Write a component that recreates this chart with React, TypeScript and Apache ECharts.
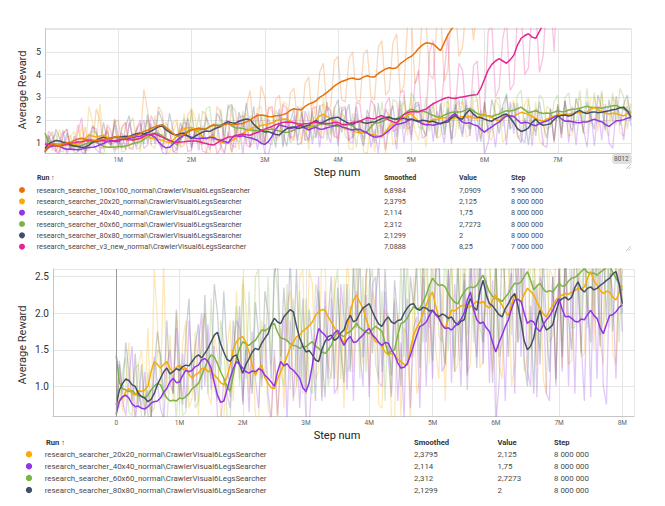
import { useEffect, useRef } from 'react';
import * as echarts from 'echarts';

// Runs shown in the first chart and in its table (table order).
const RUN_NAMES = [
  'research_searcher_100x100_normal\\CrawlerVisual6LegsSearcher',
  'research_searcher_20x20_normal\\CrawlerVisual6LegsSearcher',
  'research_searcher_40x40_normal\\CrawlerVisual6LegsSearcher',
  'research_searcher_60x60_normal\\CrawlerVisual6LegsSearcher',
  'research_searcher_80x80_normal\\CrawlerVisual6LegsSearcher',
  'research_searcher_v3_new_normal\\CrawlerVisual6LegsSearcher',
];
const RUN_COLORS = ['#e8710a', '#f9ab00', '#9334e6', '#7cb342', '#425066', '#e52592'];
const SMOOTHED_LABELS = ['6,8984', '2,3795', '2,114', '2,312', '2,1299', '7,0888'];
const VALUE_LABELS = ['7,0909', '2,125', '1,75', '2,7273', '2', '8,25'];
const STEP_LABELS = ['5 900 000', '8 000 000', '8 000 000', '8 000 000', '8 000 000', '7 000 000'];
const TABLE_HEADERS = ['Run ↑', 'Smoothed', 'Value', 'Step'];
// Runs repeated in the second (zoomed) chart.
const ZOOMED_RUNS = [1, 2, 3, 4];

// Every curve is stored with one value per 50 000 steps.
const STEP = 50000;

// Smoothed average reward.
const SMOOTH_100 = [0.6, 0.85, 0.95, 0.88, 0.85, 0.95, 1.0, 1.02, 1.1, 1.17,
  1.2, 1.16, 1.15, 1.12, 1.1, 1.15, 1.15, 1.18, 1.2, 1.24,
  1.25, 1.21, 1.2, 1.27, 1.3, 1.33, 1.4, 1.5, 1.55, 1.64,
  1.7, 1.76, 1.8, 1.68, 1.55, 1.4, 1.3, 1.34, 1.35, 1.47,
  1.55, 1.6, 1.65, 1.61, 1.6, 1.72, 1.8, 1.76, 1.75, 1.8,
  1.85, 1.81, 1.8, 1.84, 1.85, 1.92, 2.0, 2.12, 2.2, 2.22,
  2.2, 2.16, 2.15, 2.19, 2.2, 2.24, 2.3, 2.43, 2.5, 2.46,
  2.45, 2.6, 2.7, 2.76, 2.85, 3.0, 3.1, 3.22, 3.35, 3.5,
  3.6, 3.7, 3.75, 3.82, 3.85, 3.8, 3.8, 3.9, 3.95, 3.9,
  3.9, 4.05, 4.15, 4.25, 4.3, 4.27, 4.3, 4.48, 4.6, 4.72,
  4.8, 4.95, 5.15, 5.3, 5.4, 5.38, 5.35, 5.2, 5.05, 5.4,
  5.75, 6.0, 6.2, 6.35, 6.5, 6.6, 6.7, 6.8, 6.8984];
const SMOOTH_20 = [0.68, 0.8, 0.84, 0.92, 0.97, 0.9, 0.88, 0.94, 0.93, 0.95,
  1.0, 1.2, 1.34, 1.3, 1.25, 1.3, 1.34, 1.24, 1.2, 1.26,
  1.29, 1.23, 1.25, 1.16, 1.11, 1.16, 1.18, 1.24, 1.25, 1.2,
  1.22, 1.15, 1.11, 1.05, 1.02, 1.12, 1.29, 1.5, 1.61, 1.66,
  1.68, 1.6, 1.47, 1.28, 1.15, 1.24, 1.29, 1.12, 1.04, 0.98,
  0.97, 1.1, 1.2, 1.3, 1.41, 1.53, 1.61, 1.68, 1.7, 1.76,
  1.79, 1.83, 1.88, 1.97, 2.02, 2.05, 2.04, 1.95, 1.88, 1.8,
  1.72, 1.66, 1.59, 1.8, 2.02, 2.18, 2.25, 2.15, 2.07, 1.92,
  1.79, 1.7, 1.61, 1.6, 1.54, 1.47, 1.43, 1.45, 1.43, 1.37,
  1.34, 1.3, 1.29, 1.5, 1.7, 1.8, 1.88, 2.0, 2.11, 2.22,
  2.29, 2.1, 1.93, 1.85, 1.79, 1.92, 2.04, 2.03, 2.07, 2.1,
  2.11, 2.08, 2.09, 2.13, 2.16, 2.14, 2.16, 2.1, 2.07, 2.18,
  2.25, 2.17, 2.11, 2.02, 1.97, 2.12, 2.25, 2.19, 2.16, 2.26,
  2.34, 2.3, 2.25, 2.15, 2.07, 1.99, 1.95, 2.04, 2.11, 2.18,
  2.22, 2.25, 2.27, 2.26, 2.29, 2.31, 2.34, 2.33, 2.36, 2.48,
  2.57, 2.45, 2.38, 2.31, 2.27, 2.3, 2.29, 2.22, 2.18, 2.28,
  2.3795];
const SMOOTH_40 = [0.62, 0.8, 0.86, 0.88, 0.84, 0.76, 0.72, 0.73, 0.7, 0.69,
  0.72, 0.77, 0.79, 0.8, 0.84, 0.92, 0.97, 1.06, 1.11, 1.05,
  1.06, 1.15, 1.22, 1.2, 1.22, 1.27, 1.29, 1.36, 1.38, 1.34,
  1.25, 1.05, 0.88, 0.78, 0.8, 0.95, 1.11, 1.24, 1.34, 1.3,
  1.25, 1.2, 1.18, 1.21, 1.2, 1.24, 1.22, 1.15, 1.11, 1.06,
  1.0, 1.2, 1.34, 1.28, 1.31, 1.25, 1.22, 1.17, 1.11, 0.98,
  0.93, 1.05, 1.29, 1.6, 1.79, 1.74, 1.7, 1.63, 1.66, 1.73,
  1.77, 1.65, 1.56, 1.64, 1.68, 1.6, 1.61, 1.66, 1.7, 1.76,
  1.79, 1.7, 1.66, 1.6, 1.56, 1.6, 1.59, 1.5, 1.43, 1.32,
  1.25, 1.26, 1.31, 1.42, 1.56, 1.7, 1.82, 1.84, 1.88, 1.97,
  2.04, 1.98, 1.93, 1.84, 1.79, 1.8, 1.77, 1.82, 1.86, 1.92,
  2.0, 2.18, 2.29, 2.05, 1.91, 1.86, 1.88, 1.8, 1.75, 1.6,
  1.47, 1.6, 1.7, 1.82, 1.91, 2.06, 2.18, 2.19, 2.16, 2.0,
  1.86, 1.9, 1.88, 1.79, 1.75, 1.84, 1.91, 1.96, 2.04, 2.13,
  2.2, 2.05, 1.95, 1.96, 1.93, 1.89, 1.88, 1.92, 1.91, 1.98,
  2.04, 1.97, 1.93, 1.8, 1.72, 1.85, 1.97, 1.98, 2.02, 2.08,
  2.114];
const SMOOTH_60 = [1.42, 1.05, 0.97, 0.95, 0.93, 0.94, 0.9, 0.87, 0.86, 0.85,
  0.88, 0.95, 1.0, 1.04, 1.02, 0.92, 0.84, 0.8, 0.81, 0.8,
  0.84, 0.83, 0.86, 0.9, 0.97, 1.0, 1.04, 1.15, 1.25, 1.36,
  1.43, 1.4, 1.31, 1.2, 1.11, 1.0, 0.93, 1.15, 1.38, 1.52,
  1.61, 1.58, 1.56, 1.6, 1.63, 1.7, 1.77, 1.76, 1.79, 1.84,
  1.86, 1.74, 1.66, 1.65, 1.63, 1.58, 1.56, 1.55, 1.52, 1.55,
  1.54, 1.58, 1.61, 1.55, 1.52, 1.47, 1.45, 1.5, 1.56, 1.68,
  1.75, 1.7, 1.68, 1.73, 1.75, 1.8, 1.86, 1.8, 1.77, 1.74,
  1.72, 1.78, 1.82, 1.79, 1.75, 1.6, 1.45, 1.48, 1.5, 1.7,
  1.86, 1.88, 1.93, 2.02, 2.09, 2.06, 2.07, 2.15, 2.25, 2.38,
  2.48, 2.42, 2.38, 2.39, 2.36, 2.27, 2.2, 2.15, 2.13, 2.22,
  2.29, 2.34, 2.36, 2.35, 2.38, 2.46, 2.52, 2.4, 2.29, 2.23,
  2.2, 2.19, 2.16, 2.22, 2.27, 2.35, 2.41, 2.4, 2.43, 2.5,
  2.57, 2.45, 2.32, 2.37, 2.41, 2.33, 2.29, 2.31, 2.29, 2.35,
  2.41, 2.37, 2.38, 2.44, 2.48, 2.49, 2.52, 2.57, 2.61, 2.56,
  2.54, 2.55, 2.52, 2.56, 2.59, 2.63, 2.64, 2.56, 2.48, 2.4,
  2.312];
const SMOOTH_80 = [0.75, 0.95, 1.04, 1.1, 1.08, 1.02, 1.0, 0.9, 0.86, 0.84,
  0.79, 0.82, 0.9, 1.02, 1.11, 1.2, 1.25, 1.17, 1.2, 1.24,
  1.22, 1.27, 1.29, 1.28, 1.34, 1.4, 1.43, 1.39, 1.45, 1.52,
  1.61, 1.7, 1.74, 1.58, 1.47, 1.37, 1.34, 1.41, 1.43, 1.3,
  1.18, 1.3, 1.38, 1.47, 1.52, 1.5, 1.59, 1.66, 1.72, 1.85,
  1.93, 1.88, 1.86, 1.95, 2.0, 2.05, 2.02, 1.82, 1.66, 1.55,
  1.47, 1.49, 1.43, 1.36, 1.34, 1.5, 1.61, 1.68, 1.7, 1.63,
  1.66, 1.73, 1.77, 1.9, 1.97, 1.88, 1.91, 2.0, 2.07, 2.1,
  2.13, 2.02, 1.93, 1.85, 1.82, 1.9, 1.95, 1.88, 1.86, 1.9,
  1.91, 2.0, 2.07, 2.12, 2.13, 2.06, 2.04, 2.08, 2.07, 2.03,
  2.04, 1.99, 1.95, 1.99, 1.97, 1.93, 1.95, 1.88, 1.84, 1.89,
  1.91, 2.1, 2.2, 2.08, 2.04, 2.3, 2.45, 2.25, 2.13, 2.1,
  2.04, 1.98, 1.95, 2.06, 2.13, 2.22, 2.27, 2.1, 1.88, 1.62,
  1.5, 1.55, 1.66, 1.9, 2.04, 1.86, 1.77, 1.8, 1.84, 2.02,
  2.16, 2.2, 2.22, 2.18, 2.22, 2.35, 2.43, 2.33, 2.29, 2.34,
  2.36, 2.32, 2.34, 2.38, 2.41, 2.45, 2.48, 2.54, 2.57, 2.4,
  2.1299];
const SMOOTH_V3 = [0.95, 0.93, 0.9, 0.86, 0.85, 0.9, 0.95, 0.99, 1.0, 1.03,
  1.05, 1.08, 1.1, 1.07, 1.05, 1.09, 1.1, 1.06, 1.05, 1.1,
  1.12, 1.14, 1.15, 1.13, 1.12, 1.16, 1.2, 1.28, 1.35, 1.38,
  1.4, 1.32, 1.25, 1.16, 1.1, 1.05, 1.02, 1.04, 1.05, 1.07,
  1.08, 1.08, 1.06, 1.0, 0.97, 0.92, 0.9, 1.0, 1.1, 1.18,
  1.25, 1.27, 1.3, 1.35, 1.38, 1.35, 1.33, 1.4, 1.45, 1.53,
  1.6, 1.66, 1.72, 1.8, 1.85, 1.9, 1.92, 1.9, 1.88, 1.84,
  1.82, 1.84, 1.85, 1.88, 1.9, 1.86, 1.84, 1.85, 1.86, 1.89,
  1.9, 1.82, 1.78, 1.85, 1.9, 1.92, 1.95, 2.03, 2.1, 2.07,
  2.05, 2.14, 2.2, 2.1, 2.0, 1.92, 1.88, 2.05, 2.25, 2.32,
  2.38, 2.37, 2.36, 2.43, 2.48, 2.6, 2.72, 2.8, 2.88, 2.95,
  3.0, 2.97, 2.95, 2.99, 3.02, 3.05, 3.08, 3.1, 3.12, 3.4,
  3.8, 4.2, 4.45, 4.6, 4.7, 4.6, 4.5, 4.65, 4.85, 5.3,
  5.6, 5.72, 5.8, 5.65, 5.6, 5.9, 6.2, 6.4, 6.6, 6.85,
  7.0888];

// Raw average reward.
const RAW_100 = [0.55, 1.2, 1.5, 0.7, 0.6, 1.4, 1.6, 0.8, 0.9, 1.8,
  0.85, 1.7, 0.75, 0.9, 2.5, 2.0, 0.7, 1.6, 0.8, 1.9,
  2.0, 0.85, 0.75, 1.8, 2.1, 1.0, 1.1, 3.35, 2.4, 1.2,
  1.3, 2.6, 2.3, 1.2, 1.0, 1.9, 2.0, 0.8, 0.9, 2.2,
  2.5, 1.1, 1.0, 2.4, 2.2, 1.1, 1.2, 2.6, 2.3, 1.1,
  1.3, 2.6, 2.4, 1.2, 1.3, 2.65, 3.3, 1.4, 1.6, 3.5,
  3.0, 1.5, 1.4, 2.9, 3.1, 1.5, 1.6, 3.2, 3.4, 1.8,
  1.7, 3.6, 3.9, 2.0, 2.2, 4.1, 4.5, 2.4, 2.6, 4.6,
  4.8, 2.9, 2.8, 4.7, 5.0, 2.9, 2.8, 4.9, 5.1, 3.0,
  2.9, 5.2, 5.5, 3.1, 3.3, 5.4, 5.8, 3.2, 3.5, 6.2,
  6.5, 3.6, 3.9, 6.6, 6.4, 4.0, 3.8, 6.3, 6.8, 3.7,
  4.2, 7.0, 7.2, 4.8, 5.2, 7.0, 7.3, 5.5, 7.0909];
const RAW_20 = [0.6, 1.2, 0.65, 1.0, 1.6, 0.75, 0.6, 1.3, 1.5, 0.7,
  1.8, 0.55, 2.6, 1.9, 1.0, 2.7, 0.9, 1.7, 0.8, 2.0,
  0.75, 1.6, 1.9, 0.7, 0.85, 1.75, 0.6, 1.8, 2.0, 0.9,
  0.75, 1.7, 1.45, 0.6, 0.55, 1.5, 1.9, 0.8, 2.3, 1.1,
  2.5, 2.1, 0.9, 1.6, 0.6, 0.5, 1.9, 1.5, 0.7, 0.55,
  1.4, 0.5, 1.8, 0.7, 2.1, 2.3, 0.85, 1.0, 2.5, 2.6,
  0.9, 2.6, 2.4, 1.1, 1.2, 2.8, 2.7, 1.3, 1.1, 2.5,
  0.9, 2.2, 0.7, 2.9, 2.0, 1.2, 3.0, 1.6, 1.3, 2.6,
  1.0, 2.3, 2.1, 0.75, 0.7, 2.05, 1.9, 0.6, 0.55, 2.0,
  0.6, 1.8, 1.7, 0.5, 2.5, 0.9, 1.1, 2.6, 2.8, 1.3,
  3.0, 1.5, 1.1, 2.4, 0.8, 2.3, 2.7, 1.2, 1.3, 2.75,
  2.8, 1.2, 1.3, 2.7, 2.8, 1.25, 1.35, 2.8, 2.9, 1.2,
  2.7, 1.3, 1.1, 2.9, 2.6, 1.0, 1.3, 2.5, 2.9, 1.2,
  1.4, 2.7, 3.0, 1.3, 2.8, 1.1, 0.9, 2.6, 2.5, 1.05,
  2.7, 1.25, 2.85, 1.3, 1.35, 2.9, 2.95, 1.4, 1.45, 3.0,
  3.0, 1.5, 3.2, 1.6, 1.3, 3.0, 2.8, 1.45, 1.3, 2.9,
  2.125];
const RAW_40 = [0.55, 1.3, 0.8, 0.6, 1.1, 1.55, 0.5, 0.95, 0.7, 1.2,
  0.6, 0.5, 1.4, 1.05, 0.7, 0.55, 1.3, 1.5, 0.9, 1.8,
  0.85, 1.45, 0.7, 1.9, 1.2, 0.8, 1.6, 2.0, 1.0, 1.85,
  0.95, 1.55, 0.6, 0.45, 1.1, 0.9, 0.7, 1.5, 1.9, 1.8,
  0.8, 1.5, 0.65, 1.75, 1.1, 0.7, 1.6, 1.85, 0.9, 0.55,
  1.5, 0.6, 1.3, 2.0, 0.5, 1.9, 0.8, 1.65, 0.7, 1.6,
  0.55, 0.45, 1.25, 1.9, 2.5, 0.8, 2.3, 1.1, 2.2, 0.9,
  1.0, 2.4, 1.95, 0.95, 2.1, 0.8, 2.3, 1.5, 1.0, 2.25,
  0.85, 2.4, 2.5, 1.05, 1.0, 2.3, 1.4, 0.85, 2.15, 0.8,
  1.6, 0.55, 2.2, 0.7, 1.8, 1.95, 0.7, 2.5, 1.0, 2.2,
  1.1, 2.55, 2.7, 1.2, 1.3, 2.6, 1.05, 2.4, 1.8, 1.0,
  2.45, 0.95, 2.5, 2.9, 1.4, 2.65, 1.3, 2.5, 1.05, 2.45,
  0.5, 1.0, 2.0, 0.8, 2.3, 2.55, 0.9, 2.8, 1.4, 2.75,
  1.2, 1.0, 2.45, 0.85, 2.5, 2.35, 0.9, 0.8, 2.5, 1.0,
  2.7, 1.2, 2.85, 1.0, 2.6, 0.9, 2.55, 1.6, 0.8, 2.5,
  0.85, 2.6, 1.1, 2.7, 1.0, 0.75, 2.55, 2.3, 1.1, 2.6,
  1.75];
const RAW_60 = [1.42, 0.7, 1.2, 1.4, 0.65, 0.6, 1.25, 1.3, 0.55, 0.6,
  1.2, 0.65, 0.7, 1.5, 1.45, 0.6, 0.5, 1.2, 1.15, 0.55,
  1.3, 0.6, 0.65, 1.2, 1.45, 0.7, 0.8, 1.6, 2.0, 0.9,
  2.2, 1.0, 0.8, 1.9, 1.6, 0.6, 0.55, 1.4, 2.1, 1.0,
  2.4, 1.1, 2.3, 1.0, 2.5, 2.6, 1.1, 1.2, 2.5, 1.3,
  2.7, 2.3, 1.2, 1.0, 2.4, 0.95, 2.2, 1.0, 2.3, 0.9,
  2.2, 1.0, 0.9, 2.4, 2.2, 0.85, 2.1, 1.0, 1.2, 2.3,
  2.6, 1.1, 2.4, 1.2, 1.3, 2.6, 2.7, 1.1, 2.5, 1.2,
  2.4, 2.6, 1.3, 1.1, 2.3, 0.8, 2.0, 0.9, 2.2, 1.3,
  2.7, 1.4, 2.8, 1.5, 1.4, 2.9, 2.8, 1.6, 3.1, 1.8,
  3.2, 2.9, 1.7, 1.6, 3.0, 1.5, 2.8, 1.4, 2.7, 1.6,
  3.0, 1.7, 3.1, 1.6, 3.0, 1.8, 1.6, 3.3, 2.9, 1.5,
  2.8, 1.4, 1.6, 2.9, 3.0, 1.7, 3.2, 1.6, 1.8, 3.1,
  3.3, 1.5, 2.9, 1.7, 1.5, 3.1, 2.9, 1.6, 1.7, 2.8,
  3.1, 1.6, 3.0, 3.2, 1.8, 1.8, 3.3, 1.9, 3.4, 1.8,
  3.2, 1.9, 3.3, 1.7, 1.9, 3.2, 1.8, 3.4, 3.0, 1.6,
  2.7273];
const RAW_80 = [0.62, 1.35, 0.9, 1.6, 1.2, 0.8, 1.45, 0.7, 1.3, 0.6,
  0.95, 0.55, 1.2, 1.75, 1.4, 0.85, 1.9, 1.05, 0.9, 2.05,
  1.3, 0.75, 1.7, 2.2, 1.0, 1.55, 1.85, 0.95, 2.25, 1.4,
  1.1, 2.4, 2.0, 1.2, 2.3, 1.5, 0.85, 1.9, 1.3, 2.1,
  0.75, 1.6, 1.25, 0.9, 2.15, 1.7, 1.0, 2.3, 2.0, 1.1,
  2.55, 2.7, 1.4, 2.35, 1.6, 2.75, 1.5, 2.6, 1.1, 2.2,
  0.9, 2.05, 1.6, 0.8, 2.3, 1.4, 0.85, 1.95, 2.5, 1.1,
  2.35, 1.5, 1.05, 2.4, 1.2, 2.65, 1.8, 2.8, 1.4, 2.5,
  2.9, 1.45, 2.2, 2.7, 1.2, 2.6, 1.65, 1.15, 2.45, 1.9,
  1.0, 2.75, 1.3, 2.5, 2.1, 2.65, 1.25, 2.85, 1.6, 2.4,
  1.35, 2.7, 2.8, 1.7, 1.3, 2.6, 1.9, 1.2, 2.75, 1.35,
  2.55, 1.15, 2.7, 2.0, 1.25, 2.9, 1.6, 2.45, 2.05, 1.05,
  2.8, 1.5, 2.9, 2.3, 1.4, 2.65, 3.1, 1.6, 2.75, 1.35,
  1.0, 2.1, 0.9, 2.4, 1.3, 2.8, 1.8, 1.2, 2.5, 1.1,
  2.6, 1.4, 2.85, 1.9, 1.5, 2.95, 2.4, 1.45, 2.8, 2.1,
  1.6, 3.1, 2.5, 1.55, 2.9, 1.9, 3.05, 1.75, 2.7, 3.1,
  2.0];
const RAW_V3 = [0.9, 1.5, 1.3, 0.6, 0.55, 1.4, 1.6, 0.7, 0.65, 1.5,
  2.1, 0.7, 0.8, 1.7, 1.6, 0.75, 0.8, 1.8, 1.5, 0.7,
  0.75, 1.7, 1.9, 0.8, 0.7, 1.6, 2.0, 0.75, 0.9, 2.2,
  1.8, 1.0, 0.7, 1.6, 1.5, 0.6, 0.7, 1.6, 1.7, 0.6,
  0.7, 1.6, 1.5, 0.65, 0.55, 1.3, 1.4, 0.5, 0.8, 1.9,
  2.0, 0.9, 0.8, 2.1, 2.2, 0.9, 0.8, 2.0, 2.3, 1.0,
  1.1, 2.5, 2.6, 1.2, 1.3, 2.7, 2.5, 1.2, 1.3, 2.6,
  2.4, 1.1, 1.2, 2.5, 2.6, 1.3, 1.2, 2.6, 2.4, 1.3,
  1.2, 2.5, 2.6, 1.1, 1.3, 2.8, 2.7, 1.4, 1.5, 2.9,
  2.6, 1.3, 1.2, 2.7, 3.0, 1.5, 1.6, 3.2, 3.3, 1.6,
  1.7, 3.6, 4.2, 1.8, 1.9, 5.0, 5.5, 2.1, 2.2, 4.0,
  5.8, 2.0, 2.3, 4.5, 4.2, 2.1, 2.0, 4.4, 4.6, 2.3,
  2.2, 5.9, 6.2, 3.0, 3.4, 5.6, 6.4, 3.3, 3.6, 6.6,
  6.8, 4.0, 4.3, 7.0, 6.9, 4.1, 4.8, 7.4, 7.6, 5.0,
  8.25];

const SMOOTHED = [SMOOTH_100, SMOOTH_20, SMOOTH_40, SMOOTH_60, SMOOTH_80, SMOOTH_V3];
const RAW = [RAW_100, RAW_20, RAW_40, RAW_60, RAW_80, RAW_V3];

const FONT = 'Roboto, sans-serif';
const MILLION = 1000000;

function toPairs(values: number[]): number[][] {
  return values.map((v, i) => [i * STEP, v]);
}

function lineSeries(grid: number, run: number, raw: boolean): any {
  return {
    type: 'line',
    xAxisIndex: grid,
    yAxisIndex: grid,
    showSymbol: false,
    symbol: 'none',
    silent: true,
    clip: true,
    data: toPairs(raw ? RAW[run] : SMOOTHED[run]),
    lineStyle: {
      color: RUN_COLORS[run],
      width: raw ? 1.3 : 1.5,
      opacity: raw ? 0.27 : 1,
    },
  };
}

function label(x: number, y: number, text: string, extra: any = {}): any {
  return {
    type: 'text',
    x,
    y,
    silent: true,
    style: {
      text,
      fill: '#4a4a4a',
      fontSize: 7.3,
      fontFamily: FONT,
      align: 'left',
      verticalAlign: 'middle',
      ...extra,
    },
  };
}

function buildGraphic(): any[] {
  const g: any[] = [];
  // axis titles
  g.push({ ...label(22, 90, 'Average Reward', { fontSize: 11, fill: '#333', align: 'center' }), rotation: Math.PI / 2 });
  g.push({ ...label(22, 345, 'Average Reward', { fontSize: 11, fill: '#333', align: 'center' }), rotation: Math.PI / 2 });
  g.push(label(337, 172.5, 'Step num', { fontSize: 11, fill: '#222', align: 'center' }));
  g.push(label(337, 435, 'Step num', { fontSize: 11, fill: '#222', align: 'center' }));

  // last-step badge on the first chart's axis
  g.push({ type: 'rect', silent: true, shape: { x: 612, y: 154, width: 20, height: 10, r: 3 }, style: { fill: '#e0e0e0' } });
  g.push(label(614, 159.2, '8012', { fontSize: 6.5, fill: '#555' }));

  // resize handles
  [[631, 169], [631, 251]].forEach(([cx, cy]) => {
    g.push({ type: 'line', silent: true, shape: { x1: cx - 5, y1: cy, x2: cx, y2: cy - 5 }, style: { stroke: '#b5b5b5', lineWidth: 0.8 } });
    g.push({ type: 'line', silent: true, shape: { x1: cx - 2.5, y1: cy, x2: cx, y2: cy - 2.5 }, style: { stroke: '#b5b5b5', lineWidth: 0.8 } });
  });

  // first table
  const head1 = [37, 384, 459, 511];
  TABLE_HEADERS.forEach((h, i) => g.push(label(head1[i], 177.5, h, { fontWeight: 'bold', fill: '#333', fontSize: 7 })));
  RUN_NAMES.forEach((name, i) => {
    const y = 190 + i * 11.34;
    g.push({ type: 'circle', silent: true, shape: { cx: 22, cy: y, r: 3 }, style: { fill: RUN_COLORS[i] } });
    g.push(label(36.7, y, name));
    g.push(label(384, y, SMOOTHED_LABELS[i]));
    g.push(label(459, y, VALUE_LABELS[i]));
    g.push(label(511, y, STEP_LABELS[i]));
  });

  // second table
  const head2 = [46, 414, 497.5, 554];
  TABLE_HEADERS.forEach((h, i) => g.push(label(head2[i], 442, h, { fontWeight: 'bold', fill: '#333', fontSize: 7.6 })));
  ZOOMED_RUNS.forEach((run, j) => {
    const y = 454.3 + j * 11.9;
    g.push({ type: 'circle', silent: true, shape: { cx: 29, cy: y, r: 3.2 }, style: { fill: RUN_COLORS[run] } });
    g.push(label(44.7, y, RUN_NAMES[run], { fontSize: 7.9 }));
    g.push(label(414, y, SMOOTHED_LABELS[run], { fontSize: 7.9 }));
    g.push(label(497.5, y, VALUE_LABELS[run], { fontSize: 7.9 }));
    g.push(label(554, y, STEP_LABELS[run], { fontSize: 7.9 }));
  });
  return g;
}

function buildOption(): any {
  const axisLine = { show: true, onZero: false, lineStyle: { color: '#c6c6c6', width: 1 } };
  const split = { show: true, lineStyle: { color: '#e6e6e6', width: 1 } };
  const xLabel = (fmt: (v: number) => string) => ({ fontSize: 6.5, color: '#666', fontFamily: FONT, margin: 3, formatter: fmt });

  const rawTop = RUN_NAMES.map((_, r) => lineSeries(0, r, true));
  const rawBottom = ZOOMED_RUNS.map((r) => lineSeries(1, r, true));
  rawBottom[0].markLine = {
    silent: true,
    symbol: 'none',
    label: { show: false },
    lineStyle: { color: '#9a9a9a', width: 1, type: 'solid', opacity: 1 },
    data: [{ xAxis: 0 }],
  };
  const smoothTop = [3, 1, 2, 4, 5, 0].map((r) => lineSeries(0, r, false));
  const smoothBottom = [3, 1, 4, 2].map((r) => lineSeries(1, r, false));

  return {
    animation: false,
    backgroundColor: '#ffffff',
    grid: [
      { left: 45, top: 28.5, width: 586, height: 125.2 },
      { left: 53, top: 269, width: 581, height: 147.3 },
    ],
    xAxis: [
      {
        gridIndex: 0, type: 'value', min: 0, max: 8 * MILLION, interval: MILLION,
        axisLine, axisTick: { show: false }, splitLine: split,
        axisLabel: xLabel((v: number) => (v <= 0 || v >= 8 * MILLION - 1 ? '' : `${Math.round(v / MILLION)}M`)),
      },
      {
        gridIndex: 1, type: 'value', min: -MILLION, max: 8.185 * MILLION, interval: MILLION,
        axisLine, axisTick: { show: false }, splitLine: split,
        axisLabel: xLabel((v: number) => {
          if (v < 0 || v > 8 * MILLION + 1) return '';
          if (v === 0) return '0';
          return `${Math.round(v / MILLION)}M`;
        }),
      },
    ],
    yAxis: [
      {
        gridIndex: 0, type: 'value', min: 0.52, max: 6.03, splitNumber: 5,
        axisLine, axisTick: { show: false }, splitLine: split,
        axisLabel: {
          fontSize: 9, color: '#333', fontFamily: FONT, margin: 4, showMinLabel: false, showMaxLabel: false,
          formatter: (v: number) => (v > 5.9 ? '' : String(Math.round(v))),
        },
      },
      {
        gridIndex: 1, type: 'value', min: 0.59, max: 2.605, splitNumber: 4,
        axisLine, axisTick: { show: false }, splitLine: split,
        axisLabel: {
          fontSize: 10, color: '#333', fontFamily: FONT, margin: 4, showMinLabel: false, showMaxLabel: false,
          formatter: (v: number) => v.toFixed(1),
        },
      },
    ],
    series: [...rawTop, ...rawBottom, ...smoothTop, ...smoothBottom],
    graphic: buildGraphic(),
  };
}

export default function App() {
  const ref = useRef<HTMLDivElement>(null);
  useEffect(() => {
    if (!ref.current) return;
    const chart = echarts.init(ref.current, undefined, { renderer: 'svg' });
    chart.setOption(buildOption());
    return () => chart.dispose();
  }, []);
  return (
    <div
      ref={ref}
      style={{ position: 'fixed', left: 0, top: 0, width: 665, height: 506, background: '#fff' }}
    />
  );
}
